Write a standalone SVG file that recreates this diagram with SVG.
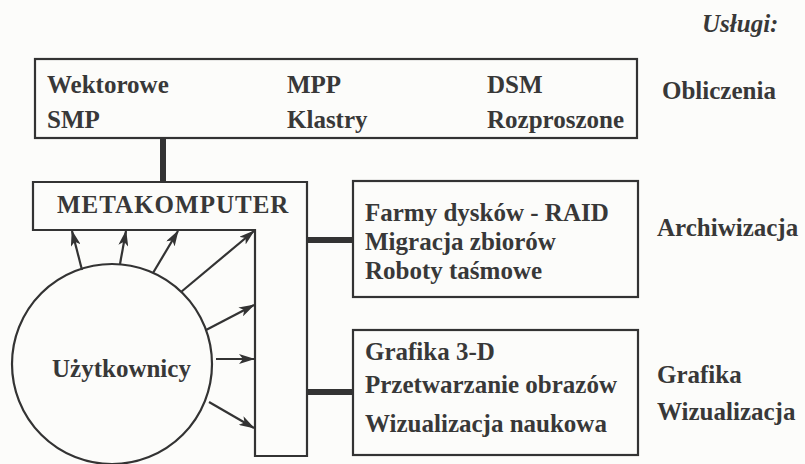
<svg xmlns="http://www.w3.org/2000/svg" width="805" height="464" viewBox="0 0 805 464">
<defs>
<style>
.t{font-family:"Liberation Serif","Times New Roman",serif;font-weight:bold;font-size:25px;fill:#383838}
.box{fill:none;stroke:#333;stroke-width:2.2}
.thick{stroke:#333;stroke-width:6;fill:none}
.arr{stroke:#333;stroke-width:2.2;fill:none;marker-end:url(#ah)}
</style>
<marker id="ah" viewBox="0 0 16 10" refX="15" refY="5" markerWidth="16" markerHeight="10" markerUnits="userSpaceOnUse" orient="auto">
<path d="M0,0 L16,5 L0,10 L4,5 Z" fill="#333"/>
</marker>
</defs>
<rect width="805" height="464" fill="#fcfcfa"/>
<text class="t" x="702" y="32" style="font-style:italic">Usługi:</text>
<g id="obliczenia">
<rect class="box" x="35" y="59" width="602" height="79"/>
<text class="t" x="47" y="93">Wektorowe</text>
<text class="t" x="287" y="93">MPP</text>
<text class="t" x="487" y="93">DSM</text>
<text class="t" x="47" y="128">SMP</text>
<text class="t" x="287" y="128">Klastry</text>
<text class="t" x="487" y="128">Rozproszone</text>
</g>
<text class="t" x="662" y="99">Obliczenia</text>
<g id="metakomputer">
<path class="box" d="M33,182 H307 V456 H255 V230 H33 Z"/>
<text class="t" x="57" y="213" style="letter-spacing:1px">METAKOMPUTER</text>
</g>
<g id="archiwizacja">
<rect class="box" x="353" y="181" width="285" height="116"/>
<text class="t" x="365" y="221">Farmy dysków - RAID</text>
<text class="t" x="365" y="250">Migracja zbiorów</text>
<text class="t" x="365" y="279">Roboty taśmowe</text>
</g>
<text class="t" x="657" y="236">Archiwizacja</text>
<g id="grafika">
<rect class="box" x="353" y="330" width="285" height="125"/>
<text class="t" x="365" y="360">Grafika 3-D</text>
<text class="t" x="365" y="393">Przetwarzanie obrazów</text>
<text class="t" x="365" y="432">Wizualizacja naukowa</text>
</g>
<text class="t" x="657" y="383">Grafika</text>
<text class="t" x="657" y="420">Wizualizacja</text>
<g id="uzytkownicy">
<circle class="box" cx="112" cy="364" r="100"/>
<text class="t" x="52" y="377">Użytkownicy</text>
</g>
<g id="connectors">
<line class="thick" x1="163" y1="138" x2="163" y2="182"/>
<line class="thick" x1="307" y1="240" x2="353" y2="240"/>
<line class="thick" x1="307" y1="392" x2="353" y2="392"/>
<line class="arr" x1="82" y1="270" x2="72" y2="231"/>
<line class="arr" x1="120" y1="264" x2="126" y2="231"/>
<line class="arr" x1="153" y1="273" x2="178" y2="231"/>
<line class="arr" x1="181" y1="292" x2="254" y2="231"/>
<line class="arr" x1="206" y1="330" x2="254" y2="305"/>
<line class="arr" x1="216" y1="359" x2="254" y2="359"/>
<line class="arr" x1="209" y1="402" x2="254" y2="428"/>
</g>
</svg>
